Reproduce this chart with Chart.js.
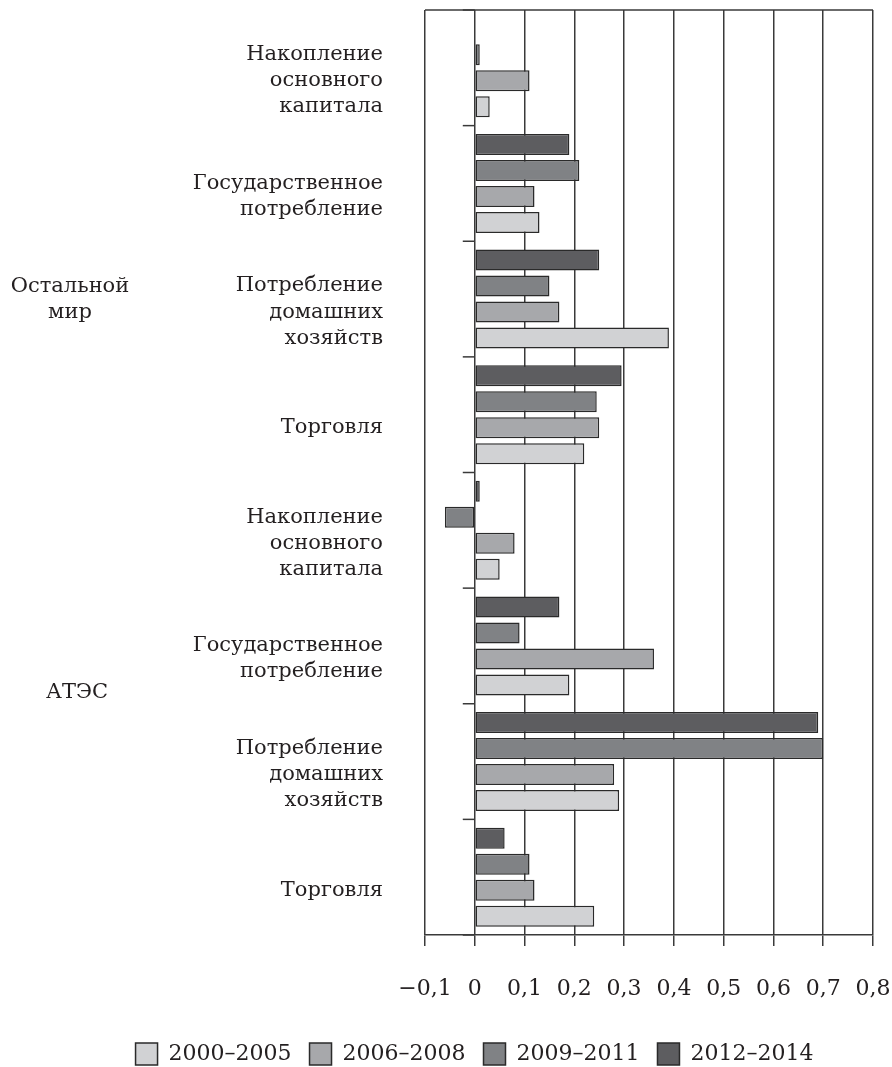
<!DOCTYPE html>
<html>
<head>
<meta charset="utf-8">
<script src="https://cdn.jsdelivr.net/npm/chart.js@4"></script>
<style>
html,body{margin:0;padding:0;background:#fff;}
#wrap{width:892px;height:1067px;position:relative;}
</style>
</head>
<body>
<div id="wrap"><canvas id="c" width="892" height="1067"></canvas></div>
<script>
const categories = [
  ["Накопление", "основного", "капитала"],
  ["Государственное", "потребление"],
  ["Потребление", "домашних", "хозяйств"],
  ["Торговля"],
  ["Накопление", "основного", "капитала"],
  ["Государственное", "потребление"],
  ["Потребление", "домашних", "хозяйств"],
  ["Торговля"]
];
const regionLabels = [["Остальной", "мир"], ["АТЭС"]];
const seriesNames = ["2000–2005", "2006–2008", "2009–2011", "2012–2014"];
const v2000_2005 = [0.03, 0.13, 0.39, 0.22, 0.05, 0.19, 0.29, 0.24];
const v2006_2008 = [0.11, 0.12, 0.17, 0.25, 0.08, 0.36, 0.28, 0.12];
const v2009_2011 = [0.01, 0.21, 0.15, 0.245, -0.06, 0.09, 0.70, 0.11];
const v2012_2014 = [null, 0.19, 0.25, 0.295, 0.01, 0.17, 0.69, 0.06];
const xTicks = [-0.1, 0, 0.1, 0.2, 0.3, 0.4, 0.5, 0.6, 0.7, 0.8];

const FONT = "'DejaVu Serif', serif";
const TXT = '#231f20';
const LINE = '#3a3a3a';
const fills = ['#d1d2d4', '#a7a8ab', '#808285', '#5d5d60'];
const values = [v2000_2005, v2006_2008, v2009_2011, v2012_2014];

// datasets listed top-to-bottom within a group (2012–2014 first)
const datasets = [3, 2, 1, 0].map(i => ({
  label: seriesNames[i],
  data: values[i],
  backgroundColor: fills[i],
  borderColor: '#2a2a2a',
  borderWidth: 1.5,
  borderSkipped: false,
  categoryPercentage: 0.9,
  barPercentage: 0.81
}));

function fmt(v) {
  const r = Math.round(v * 10) / 10;
  if (r === 0) return '0';
  return r.toFixed(1).replace('.', ',').replace('-', '−');
}

const decorPlugin = {
  id: 'decor',
  afterLayout(chart) {
    // center the legend under the plot rather than the whole canvas
    const lg = chart.legend;
    if (lg) {
      const shift = 38;
      lg.left += shift;
      lg.right += shift;
    }
  },
  afterDraw(chart) {
    const {ctx, chartArea, scales} = chart;
    const x = scales.x, y = scales.y;
    ctx.save();
    ctx.strokeStyle = LINE;
    ctx.lineWidth = 1.5;
    ctx.beginPath();
    ctx.moveTo(chartArea.left, chartArea.top);
    ctx.lineTo(chartArea.right, chartArea.top);
    ctx.stroke();
    const x0 = x.getPixelForValue(0);
    for (let i = 0; i <= categories.length; i++) {
      const yy = y.getPixelForValue(i - 0.5);
      ctx.beginPath();
      ctx.moveTo(x0 - 12, yy);
      ctx.lineTo(x0, yy);
      ctx.stroke();
    }
    ctx.fillStyle = TXT;
    ctx.font = "21px " + FONT;
    ctx.textAlign = 'center';
    ctx.textBaseline = 'middle';
    const y1 = y.getPixelForValue(2);
    ctx.fillText(regionLabels[0][0], 70, y1 - 13);
    ctx.fillText(regionLabels[0][1], 70, y1 + 13);
    const y2 = y.getPixelForValue(5.4);
    ctx.fillText(regionLabels[1][0], 77, y2);
    ctx.restore();
  }
};

new Chart(document.getElementById('c'), {
  type: 'bar',
  data: { labels: categories, datasets },
  options: {
    indexAxis: 'y',
    responsive: false,
    animation: false,
    layout: { padding: { top: 10, right: 19, left: 0, bottom: -8 } },
    plugins: {
      legend: {
        position: 'bottom',
        reverse: true,
        labels: {
          boxWidth: 22,
          boxHeight: 22,
          padding: 18,
          color: TXT,
          font: { family: FONT, size: 22 }
        }
      },
      tooltip: { enabled: false }
    },
    scales: {
      x: {
        type: 'linear',
        min: -0.1,
        max: 0.8,
        afterBuildTicks(scale) { scale.ticks = xTicks.map(v => ({ value: v })); },
        afterFit(scale) { scale.height = 90; scale.paddingLeft = 0; scale.paddingRight = 0; },
        grid: { color: LINE, lineWidth: 1.5, tickLength: 11, drawTicks: true, tickColor: LINE, tickWidth: 1.5 },
        border: { display: true, color: LINE, width: 1.5 },
        ticks: {
          color: TXT,
          padding: 30,
          autoSkip: false,
          maxRotation: 0,
          font: { family: FONT, size: 22 },
          callback: v => fmt(v)
        }
      },
      y: {
        afterFit(scale) { scale.width = 425; scale.paddingTop = 0; scale.paddingBottom = 0; },
        grid: { display: false, drawTicks: false },
        border: { display: false },
        ticks: {
          color: TXT,
          padding: 42,
          labelOffset: 13,
          autoSkip: false,
          font: { family: FONT, size: 21, lineHeight: 1.24 }
        }
      }
    }
  },
  plugins: [decorPlugin]
});
</script>
</body>
</html>
